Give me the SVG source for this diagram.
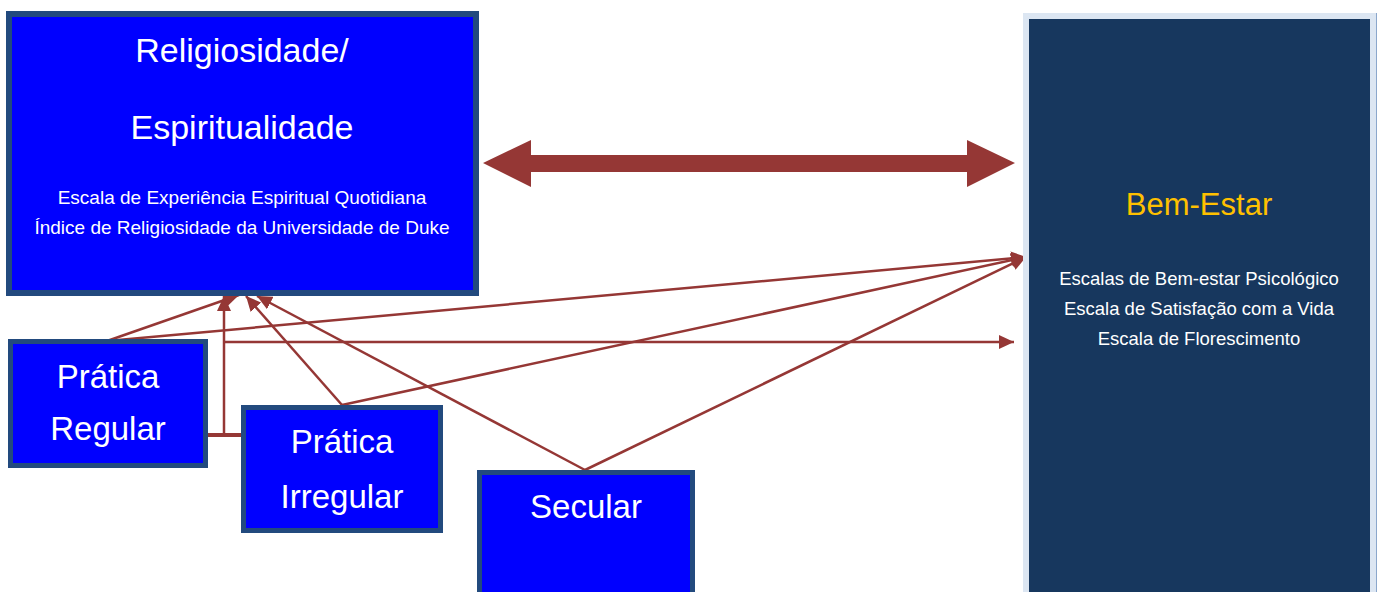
<svg xmlns="http://www.w3.org/2000/svg" width="1380" height="592" viewBox="0 0 1380 592">
<style>
.box{fill:#0000ff;stroke:#224a7e}
.t{font-family:"Liberation Sans",Arial,sans-serif;fill:#ffffff;text-anchor:middle}
.big{font-size:33px}
.ttl{font-size:34px}
.sm{font-size:18.5px}
.sml{font-size:19px}
.c{fill:none;stroke:#953735;stroke-width:2.5}
</style>
<defs>
<marker id="ah" markerUnits="userSpaceOnUse" markerWidth="16" markerHeight="14" refX="15" refY="7" orient="auto">
<path d="M0,0 L15,7 L0,14 Z" fill="#953735"/>
</marker>
</defs>
<rect width="1380" height="592" fill="#ffffff"/>
<g id="connectors">
<path d="M483,163 L531,140 L531,155 L967,155 L967,140 L1015,163 L967,187 L967,172 L531,172 L531,187 Z" fill="#953735"/>
<line class="c" x1="107" y1="341" x2="239" y2="295" marker-end="url(#ah)"/>
<line class="c" x1="224" y1="435" x2="224" y2="296" marker-end="url(#ah)"/>
<line class="c" x1="342" y1="405" x2="246" y2="296" marker-end="url(#ah)"/>
<line class="c" x1="585" y1="470" x2="257" y2="296" marker-end="url(#ah)"/>
<line class="c" x1="107" y1="341" x2="1026" y2="257" marker-end="url(#ah)"/>
<line class="c" x1="342" y1="405" x2="1026" y2="257" marker-end="url(#ah)"/>
<line class="c" x1="585" y1="470" x2="1026" y2="257" marker-end="url(#ah)"/>
<line class="c" x1="223" y1="342" x2="1014" y2="342" marker-end="url(#ah)"/>
<line x1="205" y1="435" x2="243" y2="435" stroke="#953735" stroke-width="4"/>
</g>
<g id="religiosidade">
<rect class="box" x="9" y="14" width="467" height="279" stroke-width="6"/>
<text class="t ttl" x="242" y="62">Religiosidade/</text>
<text class="t ttl" x="242" y="139">Espiritualidade</text>
<text class="t sml" x="242" y="204">Escala de Experiência Espiritual Quotidiana</text>
<text class="t sml" x="242" y="234">Índice de Religiosidade da Universidade de Duke</text>
</g>
<g id="bem-estar">
<rect x="1026" y="16" width="347" height="600" fill="#17375e" stroke="#dce6f2" stroke-width="6"/>
<line x1="1376.5" y1="13" x2="1376.5" y2="592" stroke="#8ba7cc" stroke-width="1"/>
<text class="t" x="1199" y="215" font-size="31" style="fill:#ffc000">Bem-Estar</text>
<text class="t sm" x="1199" y="285">Escalas de Bem-estar Psicológico</text>
<text class="t sm" x="1199" y="315">Escala de Satisfação com a Vida</text>
<text class="t sm" x="1199" y="345">Escala de Florescimento</text>
</g>
<g id="pratica-regular">
<rect class="box" x="10.5" y="341.5" width="195" height="124" stroke-width="5"/>
<text class="t big" x="108" y="388">Prática</text>
<text class="t big" x="108" y="440">Regular</text>
</g>
<g id="pratica-irregular">
<rect class="box" x="243.5" y="407.5" width="197" height="123" stroke-width="5"/>
<text class="t big" x="342" y="453">Prática</text>
<text class="t big" x="342" y="508">Irregular</text>
</g>
<g id="secular">
<rect class="box" x="479.5" y="472.5" width="213" height="130" stroke-width="5"/>
<text class="t big" x="586" y="518">Secular</text>
</g>
</svg>
